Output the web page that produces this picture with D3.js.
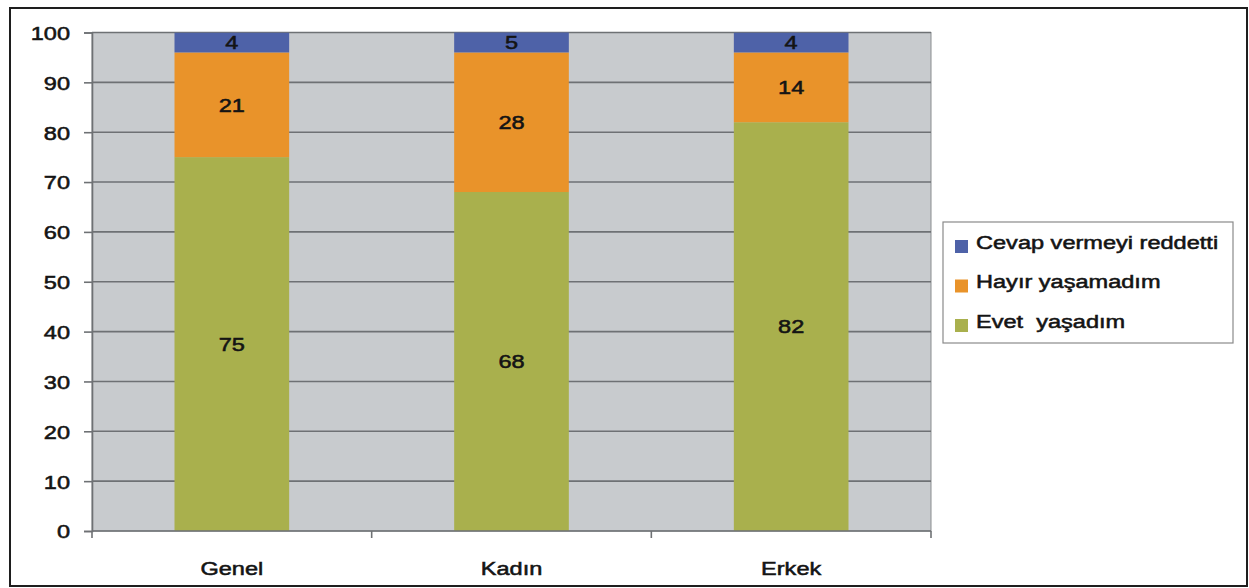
<!DOCTYPE html>
<html>
<head>
<meta charset="utf-8">
<script src="https://cdn.jsdelivr.net/npm/d3@7"></script>
<style>
  html, body { margin: 0; padding: 0; background: #fff; }
  svg { display: block; }
  text { font-family: "Liberation Sans", Arial, sans-serif; fill: #141414; stroke: #141414; stroke-width: 0.55px; white-space: pre; }
</style>
</head>
<body>
<svg id="chart" width="1249" height="588"></svg>
<script>
// Survey response shares (%) per group
const categories = ["Genel", "Kadın", "Erkek"];
const seriesNames = ["Evet  yaşadım", "Hayır yaşamadım", "Cevap vermeyi reddetti"];
const evet = [75, 68, 82];
const hayir = [21, 28, 14];
const reddetti = [4, 5, 4];
const yTicks = [0, 10, 20, 30, 40, 50, 60, 70, 80, 90, 100];
const colors = ["#A9B04D", "#E9932A", "#4E62A8"];

const plot = { left: 92, right: 931, top: 32.5, bottom: 531 };
const SX = 1.24;      // horizontal text stretch
const FS = 19;        // font size

const svg = d3.select("#chart");

// outer frame
svg.append("rect")
  .attr("x", 10).attr("y", 8)
  .attr("width", 1237).attr("height", 578)
  .attr("fill", "none").attr("stroke", "#1e1e1e").attr("stroke-width", 2);

const x = d3.scaleBand().domain(categories).range([plot.left, plot.right]).paddingInner(0.59).paddingOuter(0.295);
const xBand = d3.scaleBand().domain(categories).range([plot.left, plot.right]);
const y = d3.scaleLinear().domain([0, 100]).range([plot.bottom, plot.top]);

// plot background
svg.append("rect")
  .attr("x", plot.left).attr("y", plot.top)
  .attr("width", plot.right - plot.left).attr("height", plot.bottom - plot.top)
  .attr("fill", "#C8CBCE").attr("stroke", "#8a8d90").attr("stroke-width", 1);

// horizontal gridlines
svg.append("g").selectAll("line")
  .data(yTicks.filter(d => d > 0))
  .join("line")
  .attr("x1", plot.left).attr("x2", plot.right)
  .attr("y1", d => y(d)).attr("y2", d => y(d))
  .attr("stroke", "#6E7174").attr("stroke-width", 1.6);

// stacked data
const rows = categories.map((c, i) => ({ cat: c, "Evet  yaşadım": evet[i], "Hayır yaşamadım": hayir[i], "Cevap vermeyi reddetti": reddetti[i] }));
const stacked = d3.stack().keys(seriesNames)(rows);

svg.append("clipPath").attr("id", "plotClip")
  .append("rect")
  .attr("x", plot.left).attr("y", plot.top)
  .attr("width", plot.right - plot.left).attr("height", plot.bottom - plot.top);

const barsG = svg.append("g").attr("clip-path", "url(#plotClip)");
stacked.forEach((s, si) => {
  barsG.append("g").attr("fill", colors[si])
    .selectAll("rect")
    .data(s)
    .join("rect")
    .attr("x", d => x(d.data.cat))
    .attr("width", x.bandwidth())
    .attr("y", d => y(d[1]))
    .attr("height", d => y(d[0]) - y(d[1]));
});

function stretchedText(g, tx, ty, str, anchor) {
  return g.append("text")
    .attr("transform", `translate(${tx},${ty}) scale(${SX},1)`)
    .attr("text-anchor", anchor || "middle")
    .attr("dy", "0.36em")
    .style("font-size", FS + "px")
    .text(str);
}

// value labels centred on the visible part of each segment
const labelsG = svg.append("g");
stacked.forEach(s => {
  s.forEach(d => {
    const lo = Math.max(0, d[0]), hi = Math.min(100, d[1]);
    const cx = x(d.data.cat) + x.bandwidth() / 2;
    stretchedText(labelsG, cx, y((lo + hi) / 2), String(d[1] - d[0]));
  });
});

// y axis
const yAxis = d3.axisLeft(y).tickValues(yTicks).tickSize(8).tickPadding(0).tickFormat(d3.format("d"));
const yG = svg.append("g").attr("transform", `translate(${plot.left},0)`).call(yAxis);
yG.select(".domain").attr("stroke", "#6E7174").attr("stroke-width", 1.6);
yG.selectAll(".tick line").attr("stroke", "#6E7174").attr("stroke-width", 1.6);
yG.selectAll(".tick text")
  .attr("x", null).attr("dy", "0.36em")
  .attr("transform", `translate(-22,0) scale(${SX},1)`)
  .attr("fill", "#141414")
  .style("font-size", FS + "px")
  .style("font-family", "'Liberation Sans', Arial, sans-serif");

// x axis: line at 0 with ticks at category boundaries
const xG = svg.append("g");
xG.append("line")
  .attr("x1", plot.left).attr("x2", plot.right)
  .attr("y1", y(0)).attr("y2", y(0))
  .attr("stroke", "#6E7174").attr("stroke-width", 1.6);
const bounds = categories.map(c => xBand(c)).concat([plot.right]);
xG.selectAll("line.tick").data(bounds).join("line")
  .attr("class", "tick")
  .attr("x1", d => d).attr("x2", d => d)
  .attr("y1", y(0)).attr("y2", y(0) + 7)
  .attr("stroke", "#6E7174").attr("stroke-width", 1.6);
categories.forEach(c => {
  stretchedText(xG, xBand(c) + xBand.bandwidth() / 2, 568, c);
});

// legend
const legend = svg.append("g");
legend.append("rect")
  .attr("x", 943).attr("y", 222).attr("width", 290).attr("height", 121)
  .attr("fill", "#fff").attr("stroke", "#8a8a8a").attr("stroke-width", 1.2);
const legendItems = [
  { name: seriesNames[2], color: colors[2] },
  { name: seriesNames[1], color: colors[1] },
  { name: seriesNames[0], color: colors[0] }
];
const rowY = d3.scalePoint().domain(legendItems.map(d => d.name)).range([242, 321]);
legendItems.forEach(it => {
  const cy = rowY(it.name);
  legend.append("rect")
    .attr("x", 955).attr("y", cy - 2).attr("width", 13).attr("height", 13)
    .attr("fill", it.color);
  stretchedText(legend, 976, cy, it.name, "start");
});
</script>
</body>
</html>
